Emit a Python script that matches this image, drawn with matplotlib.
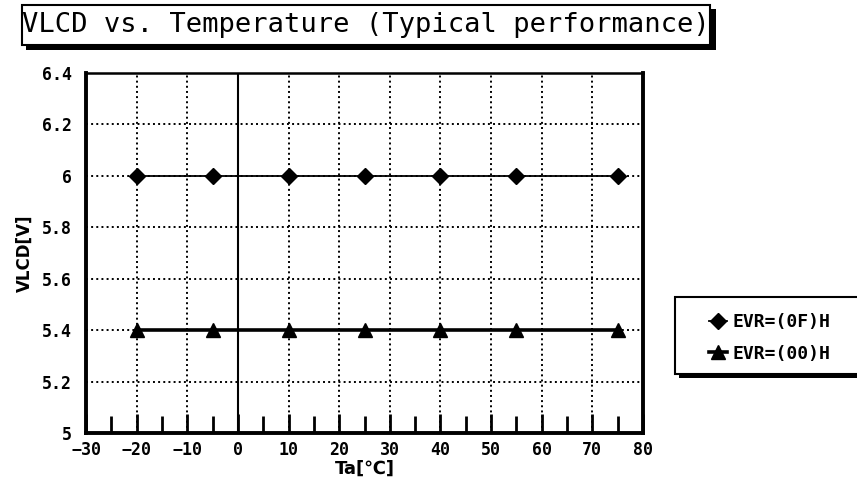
import matplotlib.pyplot as plt
from matplotlib.patches import Rectangle
from matplotlib.ticker import MultipleLocator, FuncFormatter

# data
temps = [-20, -5, 10, 25, 40, 55, 75]
vlcd_0f = [6.0, 6.0, 6.0, 6.0, 6.0, 6.0, 6.0]
vlcd_00 = [5.4, 5.4, 5.4, 5.4, 5.4, 5.4, 5.4]
labels = ['EVR=(0F)H', 'EVR=(00)H']

W, H = 857, 494
fig = plt.figure(figsize=(W / 100, H / 100), dpi=100)


def fx(px):
    return px / W


def fy(py):
    return 1 - py / H


ax = fig.add_axes([fx(86), fy(433), fx(643) - fx(86), fy(73) - fy(433)])

ax.plot(temps, vlcd_0f, '-D', color='black', lw=1.3, ms=8)
ax.plot(temps, vlcd_00, '-^', color='black', lw=2.6, ms=10)
ax.axvline(0, color='black', lw=1.5, zorder=1)

ax.set_xlim(-30, 80)
ax.set_ylim(5, 6.4)
ax.xaxis.set_major_locator(MultipleLocator(10))
ax.xaxis.set_minor_locator(MultipleLocator(5))
ax.yaxis.set_major_locator(MultipleLocator(0.2))
ax.yaxis.set_major_formatter(FuncFormatter(lambda v, p: '%g' % round(v, 1)))
ax.grid(True, which='major', color='black', linestyle=':', lw=1.4)

ax.tick_params(axis='x', which='major', direction='in', length=14, width=2, pad=6)
ax.tick_params(axis='x', which='minor', direction='in', length=12, width=2)
ax.tick_params(axis='y', length=0, pad=10)
for t in ax.get_xticklabels() + ax.get_yticklabels():
    t.set_fontfamily('DejaVu Sans Mono')
    t.set_fontweight('bold')
    t.set_fontsize(12)

for s in ['left', 'bottom', 'right']:
    ax.spines[s].set_linewidth(2.8)
ax.spines['top'].set_linewidth(1.8)

ax.set_xlabel('Ta[℃]', fontsize=13, fontweight='bold', labelpad=0)
ax.set_ylabel('VLCD[V]', fontsize=12, fontweight='bold', labelpad=6)

# title box with a dark shadow
fig.patches.append(Rectangle((fx(26), fy(50)), fx(716) - fx(26), fy(9) - fy(50),
                             transform=fig.transFigure, facecolor='black', edgecolor='none'))
fig.patches.append(Rectangle((fx(22), fy(45)), fx(710) - fx(22), fy(5) - fy(45),
                             transform=fig.transFigure, facecolor='white', edgecolor='black', lw=1.5))
fig.text(fx(366), fy(25), 'VLCD vs. Temperature (Typical performance)',
         family='DejaVu Sans Mono', fontsize=19.5, ha='center', va='center')

# legend box
fig.patches.append(Rectangle((fx(679), fy(378)), fx(870) - fx(679), fy(300) - fy(378),
                             transform=fig.transFigure, facecolor='black', edgecolor='none'))
fig.patches.append(Rectangle((fx(675), fy(374)), fx(870) - fx(675), fy(297) - fy(374),
                             transform=fig.transFigure, facecolor='white', edgecolor='black', lw=1.5))
leg = fig.legend(ax.get_lines()[:2], labels, loc='center left',
                 bbox_to_anchor=(fx(693), fy(338)), frameon=False,
                 handlelength=1.0, handletextpad=0.3, labelspacing=0.75,
                 prop={'family': 'DejaVu Sans Mono', 'weight': 'bold', 'size': 13})

plt.savefig('out.png', dpi=100)
